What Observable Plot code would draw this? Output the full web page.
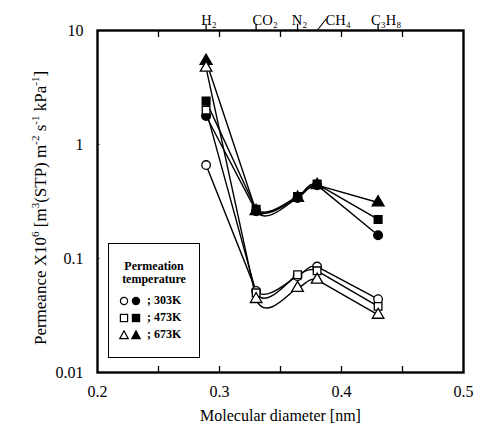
<!DOCTYPE html>
<html>
<head>
<meta charset="utf-8">
<script src="https://cdn.jsdelivr.net/npm/d3@7"></script>
<script src="https://cdn.jsdelivr.net/npm/@observablehq/plot@0.6"></script>
<style>
  body { margin: 0; background: #fff; }
  #wrap { position: relative; width: 491px; height: 434px; font-family: "Liberation Serif", "DejaVu Serif", serif; }
  #ylab { position: absolute; left: 41px; top: 208px; transform: translate(-50%, -50%) rotate(-90deg); white-space: nowrap; font-size: 17px; color: #000; }
  #ylab sup { font-size: 11px; vertical-align: 7px; line-height: 0; }
  #legend { position: absolute; left: 108px; top: 243px; width: 92px; height: 115px; border: 1px solid #000; background: #fff; box-sizing: border-box; font-weight: bold; font-size: 12px; color: #000; }
  #legend .title { text-align: center; line-height: 13px; margin-top: 16px; margin-bottom: 6px; }
  #legend .row { margin-left: 10px; height: 17px; line-height: 17px; white-space: nowrap; display: flex; align-items: center; }
  #legend .row svg { margin-right: 4px; }
</style>
</head>
<body>
<div id="wrap"></div>
<script>
// ---- data ----
const gases = ["H\u2082", "CO\u2082", "N\u2082", "CH\u2084", "C\u2083H\u2088"];
const diameters = [0.289, 0.33, 0.364, 0.38, 0.43];
const temperatures = ["303K", "473K", "673K"];
const symbols = ["circle", "square", "triangle"];
// filled symbols
const filled303 = [1.78, 0.26, 0.34, 0.44, 0.16];
const filled473 = [2.4, 0.27, 0.35, 0.45, 0.22];
const filled673 = [5.4, 0.26, 0.34, 0.44, 0.31];
// open symbols
const open303 = [0.66, 0.052, 0.07, 0.085, 0.044];
const open473 = [2.0, 0.05, 0.072, 0.078, 0.038];
const open673 = [4.7, 0.044, 0.055, 0.065, 0.032];
const xTicks = [0.2, 0.3, 0.4, 0.5];
const xMinorTicks = [0.25, 0.3, 0.35, 0.4, 0.45];
const yTicks = [0.01, 0.1, 1, 10];
const yInnerTicks = [0.1, 1];

// ---- build table ----
function rows(values, temp, sym, filled) {
  return values.map((v, i) => ({gas: gases[i], d: diameters[i], p: v, temp, sym, filled, key: temp + (filled ? "f" : "o")}));
}
const filledRows = [
  ...rows(filled303, temperatures[0], symbols[0], true),
  ...rows(filled473, temperatures[1], symbols[1], true),
  ...rows(filled673, temperatures[2], symbols[2], true)
];
const openRows = [
  ...rows(open303, temperatures[0], symbols[0], false),
  ...rows(open473, temperatures[1], symbols[1], false),
  ...rows(open673, temperatures[2], symbols[2], false)
];
const molecules = gases.map((g, i) => ({gas: g, d: diameters[i], i}));

// straight first/last segments, smooth (Catmull-Rom-like) in the middle
function curveMid(context) {
  let pts;
  return {
    areaStart() {}, areaEnd() {},
    lineStart() { pts = []; },
    point(x, y) { pts.push([+x, +y]); },
    lineEnd() {
      const n = pts.length;
      if (!n) return;
      context.moveTo(pts[0][0], pts[0][1]);
      if (n < 4) { for (let i = 1; i < n; i++) context.lineTo(pts[i][0], pts[i][1]); return; }
      context.lineTo(pts[1][0], pts[1][1]);
      const k = 1 / 9;
      for (let i = 1; i < n - 2; i++) {
        const p0 = pts[i - 1], p1 = pts[i], p2 = pts[i + 1], p3 = pts[i + 2];
        context.bezierCurveTo(
          p1[0] + (p2[0] - p0[0]) * k, p1[1] + (p2[1] - p0[1]) * k,
          p2[0] - (p3[0] - p1[0]) * k, p2[1] - (p3[1] - p1[1]) * k,
          p2[0], p2[1]);
      }
      context.lineTo(pts[n - 1][0], pts[n - 1][1]);
    }
  };
}

const lineShape = { draw(context, l) { context.moveTo(0, 0); context.lineTo(0, -l); } };
const font = "Liberation Serif";
const labelDx = [3, 9, 2, 21, 8];

const chart = Plot.plot({
  width: 491,
  height: 434,
  marginLeft: 97,
  marginRight: 28,
  marginTop: 30,
  marginBottom: 62,
  style: { fontFamily: font, fontSize: "16px", color: "#000", background: "#fff", overflow: "visible" },
  x: { domain: [0.2, 0.5] },
  y: { type: "log", domain: [0.01, 10] },
  marks: [
    Plot.axisX({ anchor: "bottom", ticks: xTicks, tickSize: 0, tickPadding: 13, tickFormat: d => d.toFixed(1), label: null, fontSize: 16 }),
    Plot.axisX({ anchor: "bottom", ticks: xMinorTicks, tickSize: -6, tickFormat: () => "", label: null, strokeWidth: 1.3 }),
    Plot.axisX({ anchor: "top", ticks: xMinorTicks, tickSize: -6, tickFormat: () => "", label: null, strokeWidth: 1.3 }),
    Plot.text(["Molecular diameter [nm]"], { frameAnchor: "bottom", dy: 48, fontSize: 16 }),
    Plot.axisY({ anchor: "left", ticks: yTicks, tickSize: 0, tickPadding: 14, tickFormat: d => String(d), label: null, fontSize: 16 }),
    Plot.axisY({ anchor: "left", ticks: yInnerTicks, tickSize: -3, tickFormat: () => "", label: null, stroke: "#888" }),
    // molecule markers on top
    Plot.vector(molecules.filter(m => m.i !== 3), { x: "d", frameAnchor: "top", length: 6, anchor: "start", shape: lineShape, strokeWidth: 1.3 }),
    Plot.vector(molecules.filter(m => m.i === 3), { x: "d", frameAnchor: "top", length: 14, rotate: 38, anchor: "start", shape: lineShape, strokeWidth: 1.1 }),
    ...molecules.map(m => Plot.text([m], { x: "d", text: "gas", frameAnchor: "top", dy: -16, dx: labelDx[m.i], fontSize: 14.5 })),
    // lines
    Plot.line(filledRows, { x: "d", y: "p", z: "key", curve: curveMid, stroke: "#000", strokeWidth: 1.4 }),
    Plot.line(openRows, { x: "d", y: "p", z: "key", curve: curveMid, stroke: "#000", strokeWidth: 1.4 }),
    // markers
    Plot.dot(filledRows, { x: "d", y: "p", symbol: "sym", r: 4.3, fill: "#000", stroke: "#000" }),
    Plot.dot(openRows, { x: "d", y: "p", symbol: "sym", r: 4.3, fill: "#fff", stroke: "#000", strokeWidth: 1.3 }),
    Plot.frame({ stroke: "#000", strokeWidth: 2.4 })
  ],
  symbol: { type: "identity" }
});

const wrap = document.getElementById("wrap");
wrap.appendChild(chart);

const ylab = document.createElement("div");
ylab.id = "ylab";
ylab.innerHTML = "Permeance X10<sup>6</sup> [m<sup>3</sup>(STP) m<sup>-2</sup> s<sup>-1</sup> kPa<sup>-1</sup>]";
wrap.appendChild(ylab);

// legend with small drawn symbols
const shapes = {
  circle: (x, f) => `<circle cx="${x}" cy="5" r="3.6" fill="${f}" stroke="#000" stroke-width="1.2"/>`,
  square: (x, f) => `<rect x="${x - 3.6}" y="1.4" width="7.2" height="7.2" fill="${f}" stroke="#000" stroke-width="1.2"/>`,
  triangle: (x, f) => `<path d="M${x},0.8L${x + 4.2},8.6L${x - 4.2},8.6Z" fill="${f}" stroke="#000" stroke-width="1.2"/>`
};
const legend = document.createElement("div");
legend.id = "legend";
legend.innerHTML = `<div class="title">Permeation<br>temperature</div>` +
  temperatures.map((t, i) => `<div class="row"><svg width="24" height="10">${shapes[symbols[i]](5, "#fff")}${shapes[symbols[i]](17, "#000")}</svg><span>; ${t}</span></div>`).join("");
wrap.appendChild(legend);
</script>
</body>
</html>
